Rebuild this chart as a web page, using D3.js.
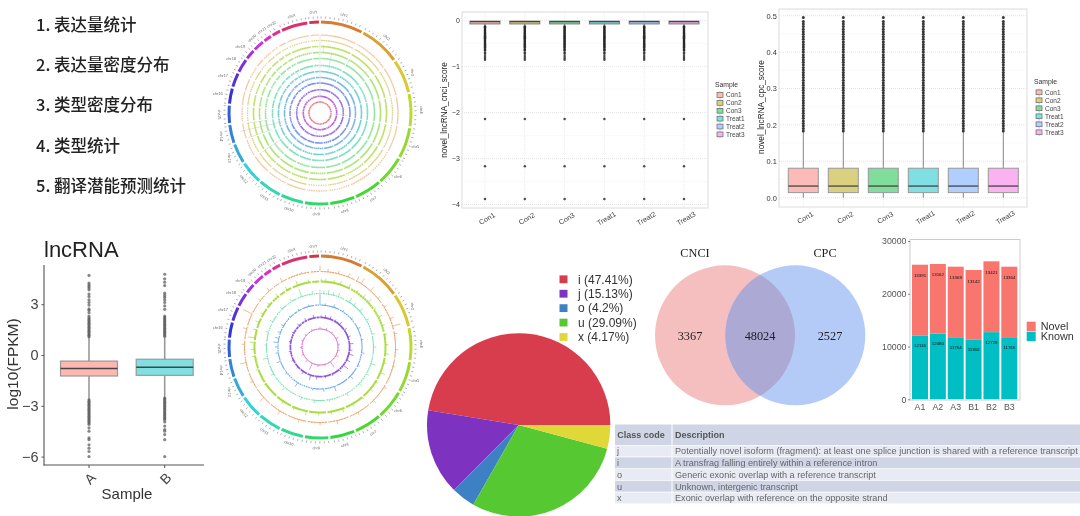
<!DOCTYPE html>
<html lang="zh"><head><meta charset="utf-8">
<script src="https://cdn.jsdelivr.net/npm/d3@7/dist/d3.min.js"></script>
<style>
html,body{margin:0;padding:0;background:#fff;overflow:hidden}
svg{display:block}
text{font-family:"Liberation Sans",Arial,sans-serif}
</style></head><body>
<script>
// ---------- data ----------
const menuItems = ["1. 表达量统计","2. 表达量密度分布","3. 类型密度分布","4. 类型统计","5. 翻译潜能预测统计"];

const chromNames = ["chr1","chr2","chr3","chr4","chr5","chr6","chr7","chr8","chr9","chr10","chr11","chr12","chr13","chr14","chr15","chr16","chr17","chr18","chr19","chr20","chr21","chr22","chrX","chrY"];
const chromLengths = [248,242,198,190,181,170,159,145,138,133,135,133,114,107,102,90,83,80,58,64,46,50,156,57];

// top circos: faint long peaks [angle deg, inner value, outer value]
const topPeaks = [[0,13,78],[3,60,68],[11,44,62],[29,52,60],[95,14,28],[190,14,22],[212,40,50],[236,44,72],[251,50,76],[257,38,82],[262,54,74],[270,16,30],[315,50,58],[330,36,46]];

// lower circos: peaks per track [angle deg, height]
const peaksOrange = [[0,6],[6,3],[14,3],[22,4],[29,5],[33,6],[42,5],[50,3],[58,3],[68,4],[74,8],[80,3],[92,3],[105,2],[122,3],[135,3],[150,3],[167,4],[180,3],[196,3],[212,4],[228,5],[243,3],[258,6],[272,3],[284,4],[296,10],[308,3],[318,4],[330,4],[346,2]];
const peaksLime = [[1,3],[5,3],[12,3],[18,4],[26,4],[34,3],[41,4],[47,5],[55,3],[63,4],[71,3],[79,3],[88,3],[96,4],[104,3],[113,5],[122,3],[130,4],[140,3],[150,3],[160,4],[170,3],[181,3],[192,4],[203,3],[214,3],[236,2],[250,3],[262,3],[268,4],[274,5],[278,7],[285,4],[292,4],[300,3],[310,3],[320,4],[330,4],[340,5],[350,3]];
const peaksGreen = [[0,4],[4,3],[9,4],[14,3],[20,4],[33,5],[39,3],[48,4],[60,3],[76,3],[90,3],[108,5],[120,3],[133,4],[150,3],[170,2],[186,3],[200,3],[221,4],[240,3],[258,5],[272,2],[286,3],[298,3],[315,3],[328,3],[340,8],[352,3]];
const peaksBlue = [[0,11],[7,2],[19,3],[33,2],[48,2],[64,3],[80,2],[98,3],[116,2],[134,4],[160,5],[175,3],[190,2],[212,5],[232,2],[250,4],[262,3],[270,3],[276,5],[282,4],[290,3],[300,3],[315,2],[330,2],[345,2]];
const peaksPurple = [[2,2],[10,3],[20,3],[30,2],[41,4],[55,3],[70,3],[84,4],[96,3],[104,5],[116,4],[128,6],[140,3],[156,2],[170,2],[186,3],[198,5],[214,3],[228,2],[244,2],[262,2],[280,2],[298,2],[316,3],[332,3],[348,3]];
const peaksMagenta = [[0,2],[20,2],[40,2],[62,3],[82,2],[100,2],[118,3],[145,7],[165,2],[186,2],[205,7],[224,3],[246,2],[268,2],[290,2],[310,2],[335,2]];

// novel_lncRNA_cnci_score
const cnciSamples = ["Con1","Con2","Con3","Treat1","Treat2","Treat3"];
const cnciTicks = [0,-1,-2,-3,-4];
const cnciQ1 = -0.07, cnciMedian = -0.02, cnciQ3 = -0.01, cnciLow = -0.1;
const cnciOutliers = [-0.12,-0.14,-0.16,-0.18,-0.2,-0.22,-0.24,-0.26,-0.28,-0.3,-0.32,-0.34,-0.36,-0.38,-0.4,-0.42,-0.44,-0.46,-0.48,-0.5,-0.52,-0.54,-0.56,-0.58,-0.61,-0.63,-0.65,-0.69,-0.72,-0.77,-0.81,-0.85,-2.14,-3.17,-3.88];

// novel_lncRNA_cpc_score
const cpcTicks = [0,0.1,0.2,0.3,0.4,0.5];
const cpcQ1 = 0.014, cpcMedian = 0.032, cpcQ3 = 0.081, cpcLow = 0, cpcHigh = 0.18;
const cpcOutliers = [0.183,0.19,0.197,0.204,0.211,0.218,0.225,0.232,0.239,0.246,0.253,0.26,0.267,0.274,0.281,0.288,0.295,0.302,0.309,0.316,0.323,0.33,0.337,0.344,0.351,0.358,0.365,0.372,0.379,0.386,0.393,0.4,0.407,0.414,0.421,0.428,0.435,0.442,0.449,0.456,0.463,0.47,0.477,0.484,0.495];

// lncRNA box plot
const lncSamples = ["A","B"];
const lncTicks = [3,0,-3,-6];
const lncStatsA = {q1:-1.24, med:-0.79, q3:-0.36, lo:-2.66, hi:1.08};
const lncStatsB = {q1:-1.2, med:-0.73, q3:-0.25, lo:-2.6, hi:1.1};
const lncOutA = [1.08,1.16,1.24,1.32,1.4,1.48,1.56,1.64,1.72,1.8,1.88,1.96,2.04,2.12,2.2,2.3,2.5,2.65,2.72,2.95,3.1,3.25,3.45,3.6,3.85,3.95,4.05,4.15,4.25,4.7,-2.65,-2.73,-2.81,-2.89,-2.97,-3.05,-3.13,-3.21,-3.29,-3.37,-3.45,-3.53,-3.61,-3.69,-3.77,-3.85,-3.93,-4.01,-4.1,-4.3,-4.5,-4.9,-5.0,-5.3,-5.5,-5.7,-6.0];
const lncOutB = [1.1,1.18,1.26,1.34,1.42,1.5,1.58,1.66,1.74,1.82,1.9,1.98,2.06,2.14,2.22,2.3,2.7,2.9,3.1,3.25,3.4,3.52,3.65,4.1,4.3,4.5,4.77,-2.55,-2.63,-2.71,-2.79,-2.87,-2.95,-3.03,-3.11,-3.19,-3.27,-3.35,-3.43,-3.51,-3.59,-3.67,-3.75,-3.83,-3.95,-4.2,-4.4,-4.5,-4.7,-5.0,-6.0];

// pie
const pieClasses = ["i","j","o","u","x"];
const pieShares = [47.41,15.13,4.2,29.09,4.17];

// venn
const vennNames = ["CNCI","CPC"];
const vennCounts = [3367,48024,2527];

// stacked bars
const barSamples = ["A1","A2","A3","B1","B2","B3"];
const knownCounts = [12116,12480,11764,11360,12729,11766];
const novelCounts = [13391,13162,13369,13142,13421,13364];
const barTicks = [0,10000,20000,30000];

// class-code table
const tableHeader = ["Class code","Description"];
const tableCodes = ["j","i","o","u","x"];
const tableDescriptions = ["Potentially novel isoform (fragment): at least one splice junction is shared with a reference transcript","A transfrag falling entirely within a reference intron","Generic exonic overlap with a reference transcript","Unknown, intergenic transcript","Exonic overlap with reference on the opposite strand"];

// ---------- page ----------
const svg = d3.select("body").append("svg").attr("width",1080).attr("height",516).attr("viewBox","0 0 1080 516");
svg.append("rect").attr("width",1080).attr("height",516).attr("fill","#fff");
const defs = svg.append("defs");
[["soft",0.55],["soft2",0.7]].forEach(f=>{
  defs.append("filter").attr("id",f[0]).attr("x","-5%").attr("y","-5%").attr("width","110%").attr("height","110%")
    .append("feGaussianBlur").attr("stdDeviation",f[1]);
});
const layer = (f)=> svg.append("g").attr("filter",`url(#${f||"soft"})`);

// menu
const menuY = d3.scalePoint().domain(menuItems).range([30.5,192]);
layer().selectAll("text").data(menuItems).join("text")
  .attr("x",36).attr("y",d=>menuY(d))
  .style("font-family",'"Noto Sans CJK SC","Noto Sans",sans-serif').style("font-weight",500)
  .attr("font-size",16.5).attr("fill","#222").text(d=>d);

// ---------- circos ----------
const gapDeg = 1.3;
const usable = 360 - gapDeg*chromNames.length;
const cum = d3.cumsum(chromLengths);
const genomeTotal = cum[cum.length-1];
const genomeAngle = d3.scaleLinear().domain([0,genomeTotal]).range([0,usable]);
const chromArcs = chromNames.map((n,i)=>{
  const start = genomeAngle(i?cum[i-1]:0)+gapDeg*i+gapDeg/2;
  const end = genomeAngle(cum[i])+gapDeg*i+gapDeg/2;
  return {name:n,start,end,len:chromLengths[i],i};
});
const chromColor = d3.scaleLinear().domain([0,chromNames.length-1]).range([26,352]);
const rad = d=>d*Math.PI/180;
const arcPath = (r,s,e)=>d3.arc()({innerRadius:r,outerRadius:r,startAngle:rad(s),endAngle:rad(e)});
function ideogram(g){
  const arc = d3.arc();
  g.selectAll("path.chrom").data(chromArcs).join("path").attr("class","chrom")
    .attr("d",d=>arc({innerRadius:89.5,outerRadius:92.5,startAngle:rad(d.start),endAngle:rad(d.end)}))
    .attr("fill",d=>d3.hsl(chromColor(d.i),0.68,0.52));
  chromArcs.forEach(c=>{
    const t = d3.scaleLinear().domain([0,c.len]).range([c.start,c.end]);
    const vals = d3.range(0,c.len,25);
    g.append("g").selectAll("line").data(vals).join("line")
      .attr("x1",v=>94.5*Math.sin(rad(t(v)))).attr("y1",v=>-94.5*Math.cos(rad(t(v))))
      .attr("x2",v=>96.5*Math.sin(rad(t(v)))).attr("y2",v=>-96.5*Math.cos(rad(t(v))))
      .attr("stroke","#999").attr("stroke-width",0.8);
  });
  g.selectAll("text.cn").data(chromArcs).join("text").attr("class","cn")
    .attr("font-size",3.9).attr("fill","#666").attr("text-anchor","middle").attr("dy","0.35em")
    .attr("transform",d=>{
      const m=(d.start+d.end)/2;
      let rot = m>90&&m<270 ? m-180 : m;
      if(rot>180) rot-=360;
      if(Math.abs(rot)>50) rot = rot>0 ? 90 : 0;
      const r = Math.abs(rot)==0&&m>200&&m<340 ? 104 : 101;
      return `translate(${r*Math.sin(rad(m))},${-r*Math.cos(rad(m))}) rotate(${rot})`;
    }).text(d=>d.name);
}

// upper circos
const topG = layer("soft2").attr("transform","translate(320,113)");
ideogram(topG);
const topRadii = [78,72.5,66.5,60.5,54.5,47.5,41.5,35.5,30,23.3,16.7,11];
const topColors = ["#EE9F66","#C9B530","#A5D52F","#8BDD47","#6CDD7A","#4CD6A6","#3CBFC4","#4B9BE2","#4E6EE2","#7440DA","#A32DC8","#E8475A"];
topRadii.forEach((r,k)=>{
  topG.append("g").selectAll("path").data(chromArcs).join("path")
    .attr("d",d=>arcPath(r,d.start,d.end))
    .attr("fill","none").attr("stroke",topColors[k]).attr("stroke-width",k==11?1.5:k<2?1.3:1.6)
    .attr("stroke-dasharray",k<2?"1.3 1.1":"1.6 0.5").attr("opacity",k<2?0.6:0.72);
});
topG.append("g").selectAll("line").data(topPeaks).join("line")
  .attr("x1",d=>d[1]*Math.sin(rad(d[0]))).attr("y1",d=>-d[1]*Math.cos(rad(d[0])))
  .attr("x2",d=>d[2]*Math.sin(rad(d[0]))).attr("y2",d=>-d[2]*Math.cos(rad(d[0])))
  .attr("stroke","#bbb").attr("stroke-width",0.6).attr("opacity",.6);

// lower circos
const lowG = layer("soft2").attr("transform","translate(320,347)");
ideogram(lowG);
const lowTracks = [
  {r:75.5,c:"#EE9F66",w:1.0,p:peaksOrange,o:.9,dash:"2 0.8"},
  {r:65.5,c:"#A2D832",w:2.0,p:peaksLime,o:.9,dash:"2.2 0.5"},
  {r:53.5,c:"#6FE0A8",w:1.1,p:peaksGreen,o:.9,dash:"1.6 0.9"},
  {r:42,c:"#5B9FE4",w:1.1,p:peaksBlue,o:.9,dash:"1.6 0.8"},
  {r:29.6,c:"#8A4FD8",w:1.7,p:peaksPurple,o:.95,dash:"2 0.4"},
  {r:18,c:"#D568C8",w:1.0,p:peaksMagenta,o:.9,dash:"1.4 0.6"}
];
lowTracks.forEach(t=>{
  const g = lowG.append("g");
  g.selectAll("path").data(chromArcs).join("path")
    .attr("d",d=>arcPath(t.r,d.start,d.end))
    .attr("fill","none").attr("stroke",t.c).attr("stroke-width",t.w)
    .attr("stroke-dasharray",t.dash).attr("opacity",t.o);
  g.selectAll("line").data(t.p).join("line")
    .attr("x1",d=>t.r*Math.sin(rad(d[0]))).attr("y1",d=>-t.r*Math.cos(rad(d[0])))
    .attr("x2",d=>(t.r+d[1])*Math.sin(rad(d[0]))).attr("y2",d=>-(t.r+d[1])*Math.cos(rad(d[0])))
    .attr("stroke",t.c).attr("stroke-width",0.8).attr("opacity",.85);
});

// ---------- ggplot style box panels ----------
const hues = ["#F8766D","#B79F00","#00BA38","#00BFC4","#619CFF","#F564E3"];
function boxPanel(o){
  const g = layer("soft");
  const x = d3.scalePoint().domain(cnciSamples).range(o.xr);
  const y = d3.scaleLinear().domain(o.ydom).range(o.yr);
  const grid = g.append("g");
  grid.selectAll("line.maj").data(o.ticks).join("line").attr("class","maj")
    .attr("x1",o.px[0]).attr("x2",o.px[1]).attr("y1",d=>y(d)).attr("y2",d=>y(d))
    .attr("stroke","#dedede").attr("stroke-width",.8).attr("stroke-dasharray","1 1");
  grid.selectAll("line.min").data(o.minor).join("line").attr("class","min")
    .attr("x1",o.px[0]).attr("x2",o.px[1]).attr("y1",d=>y(d)).attr("y2",d=>y(d))
    .attr("stroke","#eeeeee").attr("stroke-width",.6).attr("stroke-dasharray","1 1");
  grid.selectAll("line.v").data(cnciSamples).join("line").attr("class","v")
    .attr("y1",o.py[0]).attr("y2",o.py[1]).attr("x1",d=>x(d)).attr("x2",d=>x(d))
    .attr("stroke","#e4e4e4").attr("stroke-width",.7).attr("stroke-dasharray","1 1");
  g.append("rect").attr("x",o.px[0]).attr("y",o.py[0]).attr("width",o.px[1]-o.px[0]).attr("height",o.py[1]-o.py[0])
    .attr("fill","none").attr("stroke","#dcdcdc").attr("stroke-width",1);
  const bw = 30;
  cnciSamples.forEach((s,i)=>{
    const b = g.append("g");
    b.append("line").attr("x1",x(s)).attr("x2",x(s)).attr("y1",y(o.q3)).attr("y2",y(o.hi))
      .attr("stroke",o.whisk).attr("stroke-width",1);
    b.append("line").attr("x1",x(s)).attr("x2",x(s)).attr("y1",y(o.q1)).attr("y2",y(o.lo))
      .attr("stroke",o.whisk).attr("stroke-width",1);
    b.selectAll("circle").data(o.out).join("circle").attr("cx",x(s)).attr("cy",d=>y(d))
      .attr("r",o.outR).attr("fill","#222").attr("fill-opacity",o.outO);
    b.append("rect").attr("x",x(s)-bw/2).attr("width",bw)
      .attr("y",y(o.q3)).attr("height",y(o.q1)-y(o.q3))
      .attr("fill",d3.interpolateRgb(hues[i],"#fff")(0.5)).attr("stroke",o.boxStroke).attr("stroke-width",1);
    b.append("line").attr("x1",x(s)-bw/2).attr("x2",x(s)+bw/2).attr("y1",y(o.med)).attr("y2",y(o.med))
      .attr("stroke","#444").attr("stroke-width",1.3);
  });
  const yAxis = d3.axisLeft(y).tickValues(o.ticks).tickFormat(d3.format(o.fmt)).tickSize(0).tickPadding(0);
  const ya = g.append("g").attr("transform",`translate(${o.px[0]-2.2},0)`).call(yAxis);
  ya.select(".domain").remove();
  ya.selectAll("text").attr("font-size",o.tickFs).attr("fill","#333").style("font-family",'"Liberation Sans",sans-serif');
  g.append("g").selectAll("text").data(cnciSamples).join("text")
    .attr("transform",d=>`translate(${x(d)+2},${o.py[1]+10.5}) rotate(-30)`)
    .attr("text-anchor","middle").attr("dy","0.35em").attr("font-size",7.2).attr("fill","#444").text(d=>d);
  g.append("text").attr("transform",`translate(${o.ylx},${o.yly}) rotate(-90)`).attr("text-anchor","middle")
    .attr("font-size",8.2).attr("fill","#222").text(o.yl);
  g.append("text").attr("x",o.lx).attr("y",o.lty).attr("font-size",6.8).attr("fill","#333").text("Sample");
  const ly = d3.scalePoint().domain(cnciSamples).range(o.lkeys);
  cnciSamples.forEach((s,i)=>{
    g.append("line").attr("x1",o.lx+5).attr("x2",o.lx+5).attr("y1",ly(s)-3.8).attr("y2",ly(s)+3.8).attr("stroke","#888").attr("stroke-width",.5);
    g.append("rect").attr("x",o.lx+2).attr("y",ly(s)-2.4).attr("width",6).attr("height",4.8)
      .attr("fill",d3.interpolateRgb(hues[i],"#fff")(0.5)).attr("stroke","#666").attr("stroke-width",.7);
    g.append("text").attr("x",o.lx+11).attr("y",ly(s)).attr("dy","0.35em").attr("font-size",6.5).attr("fill","#444").text(s);
  });
}
boxPanel({xr:[485,684],ydom:[0,-4],yr:[20.7,204.5],px:[462,708],py:[12,208],ticks:cnciTicks,minor:[-0.5,-1.5,-2.5,-3.5],
  q1:cnciQ1,med:cnciMedian,q3:cnciQ3,lo:cnciLow,hi:cnciQ3,out:cnciOutliers,outR:1.25,outO:.8,whisk:"#666",boxStroke:"#777",
  fmt:"d",tickFs:7,ylx:447,yly:110,yl:"novel_lncRNA_cnci_score",lx:715,lty:87,lkeys:[95,134.4]});
boxPanel({xr:[803.3,1003.3],ydom:[0,0.5],yr:[197.7,15.7],px:[779,1027],py:[9,207],ticks:cpcTicks,minor:[0.05,0.15,0.25,0.35,0.45],
  q1:cpcQ1,med:cpcMedian,q3:cpcQ3,lo:cpcLow,hi:cpcHigh,out:cpcOutliers,outR:1.5,outO:.9,whisk:"#888",boxStroke:"#999",
  fmt:".1f",tickFs:7.4,ylx:764,yly:107,yl:"novel_lncRNA_cpc_score",lx:1034,lty:84,lkeys:[92.3,132.3]});

// ---------- lncRNA box plot ----------
{
  const g = layer("soft");
  const x = d3.scalePoint().domain(lncSamples).range([89,164.7]);
  const y = d3.scaleLinear().domain([0,3]).range([355,304.2]);
  g.append("text").attr("x",44).attr("y",257).attr("font-size",22).attr("fill","#222").text("lncRNA");
  [lncStatsA,lncStatsB].forEach((st,i)=>{
    const s = lncSamples[i], cx=x(s);
    g.append("line").attr("x1",cx).attr("x2",cx).attr("y1",y(st.hi)).attr("y2",y(st.lo)).attr("stroke","#999").attr("stroke-width",1.6);
    g.append("g").selectAll("circle").data(i?lncOutB:lncOutA).join("circle")
      .attr("cx",cx).attr("cy",d=>y(d)).attr("r",1.6).attr("fill","#555").attr("fill-opacity",.7);
    g.append("rect").attr("x",cx-28.5).attr("width",57).attr("y",y(st.q3)).attr("height",y(st.q1)-y(st.q3))
      .attr("fill",i?"#7FDFE1":"#FFB7B2").attr("stroke","#999").attr("stroke-width",1.2);
    g.append("line").attr("x1",cx-28.5).attr("x2",cx+28.5).attr("y1",y(st.med)).attr("y2",y(st.med)).attr("stroke","#444").attr("stroke-width",1.5);
  });
  g.append("line").attr("x1",44).attr("x2",44).attr("y1",265).attr("y2",465.5).attr("stroke","#555").attr("stroke-width",1.1);
  g.append("line").attr("x1",43.5).attr("x2",204).attr("y1",465).attr("y2",465).attr("stroke","#555").attr("stroke-width",1.1);
  const yAxis = d3.axisLeft(y).tickValues(lncTicks).tickFormat(d3.format("d")).tickSize(2.5).tickPadding(3);
  const ya = g.append("g").attr("transform","translate(44,0)").call(yAxis);
  ya.select(".domain").remove();
  ya.selectAll("line").attr("stroke","#555");
  ya.selectAll("text").attr("font-size",14.5).attr("fill","#444").style("font-family",'"Liberation Sans",sans-serif');
  g.append("g").selectAll("line").data(lncSamples).join("line").attr("x1",d=>x(d)).attr("x2",d=>x(d)).attr("y1",465).attr("y2",468).attr("stroke","#555");
  g.append("g").selectAll("text").data(lncSamples).join("text")
    .attr("transform",d=>`translate(${x(d)+1},${478.5}) rotate(-45)`).attr("text-anchor","middle").attr("dy","0.35em")
    .attr("font-size",14).attr("fill","#444").text(d=>d);
  g.append("text").attr("x",127).attr("y",499).attr("text-anchor","middle").attr("font-size",15).attr("fill","#333").text("Sample");
  g.append("text").attr("transform","translate(18,364) rotate(-90)").attr("text-anchor","middle").attr("font-size",15.5).attr("fill","#333").text("log10(FPKM)");
}

// ---------- pie ----------
{
  const g = layer("soft");
  const colors = d3.scaleOrdinal().domain(pieClasses).range(["#D83C4E","#7E33C0","#3C80C4","#57C832","#E0D838"]);
  const pie = d3.pie().sort(null).startAngle(Math.PI/2).endAngle(Math.PI/2-2*Math.PI);
  const arcs = pie(pieShares);
  const arc = d3.arc().innerRadius(0).outerRadius(91.7);
  g.append("g").attr("transform","translate(518.7,425)").selectAll("path").data(arcs).join("path")
    .attr("d",arc).attr("fill",(d,i)=>colors(pieClasses[i]));
  const ly = d3.scalePoint().domain(pieClasses).range([279.3,337]);
  g.append("g").selectAll("rect").data(pieClasses).join("rect")
    .attr("x",559.5).attr("y",d=>ly(d)-3.9).attr("width",8).attr("height",7.8).attr("fill",d=>colors(d));
  g.append("g").selectAll("text").data(pieClasses).join("text")
    .attr("x",578).attr("y",d=>ly(d)).attr("dy","0.36em").attr("font-size",12).attr("fill","#333")
    .text((d,i)=>`${d} (${pieShares[i]}%)`);
}

// ---------- venn ----------
{
  const g = layer("soft");
  const serif = '"Liberation Serif","Times New Roman",serif';
  const vx = d3.scalePoint().domain(vennNames).range([725,795.3]);
  defs.append("clipPath").attr("id","vennL").append("circle").attr("cx",vx("CNCI")).attr("cy",335.3).attr("r",70);
  g.append("circle").attr("cx",vx("CNCI")).attr("cy",335.3).attr("r",70).attr("fill","#F6BFBF");
  g.append("circle").attr("cx",vx("CPC")).attr("cy",335.3).attr("r",70).attr("fill","#B3CBF6");
  g.append("circle").attr("cx",vx("CPC")).attr("cy",335.3).attr("r",70).attr("fill","#ACA9D5").attr("clip-path","url(#vennL)");
  const lab = d3.scaleOrdinal().domain(vennNames).range([695,825]);
  g.append("g").selectAll("text").data(vennNames).join("text").attr("x",d=>lab(d)).attr("y",257)
    .attr("text-anchor","middle").attr("font-size",12.3).attr("fill","#222").style("font-family",serif).text(d=>d);
  const cx = d3.scalePoint().domain([0,1,2]).range([690,830]);
  g.append("g").selectAll("text").data(vennCounts).join("text").attr("x",(d,i)=>cx(i)).attr("y",339.5)
    .attr("text-anchor","middle").attr("font-size",12.3).attr("fill","#222").style("font-family",serif).text(d=>d);
}

// ---------- stacked bars ----------
{
  const g = layer("soft");
  const x = d3.scalePoint().domain(barSamples).range([920,1009.3]);
  const y = d3.scaleLinear().domain([0,30000]).range([399.3,241]);
  barSamples.forEach((s,i)=>{
    const k=knownCounts[i], n=novelCounts[i];
    g.append("rect").attr("x",x(s)-8).attr("width",16).attr("y",y(k)).attr("height",y(0)-y(k)).attr("fill","#00BFC4");
    g.append("rect").attr("x",x(s)-8).attr("width",16).attr("y",y(k+n)).attr("height",y(k)-y(k+n)).attr("fill","#F8766D");
    g.append("text").attr("x",x(s)).attr("y",y(k+n)+12.5).attr("text-anchor","middle").attr("font-size",4.4).attr("fill","#111").text(n);
    g.append("text").attr("x",x(s)).attr("y",y(k)+12).attr("text-anchor","middle").attr("font-size",4.4).attr("fill","#111").text(k);
  });
  g.append("rect").attr("x",910).attr("y",239.5).attr("width",110).attr("height",160.5).attr("fill","none").attr("stroke","#ccc").attr("stroke-width",1);
  const ya = g.append("g").attr("transform","translate(910,0)").call(d3.axisLeft(y).tickValues(barTicks).tickFormat(d3.format("d")).tickSize(2).tickPadding(1.5));
  ya.select(".domain").remove();
  ya.selectAll("line").attr("stroke","#888");
  ya.selectAll("text").attr("font-size",8.8).attr("fill","#555").style("font-family",'"Liberation Sans",sans-serif');
  g.append("g").selectAll("text").data(barSamples).join("text").attr("x",d=>x(d)).attr("y",410)
    .attr("text-anchor","middle").attr("font-size",8.8).attr("fill","#555").text(d=>d);
  [["Novel","#F8766D",321.7,330],["Known","#00BFC4",331.7,340]].forEach(l=>{
    g.append("rect").attr("x",1026.7).attr("y",l[2]).attr("width",9).attr("height",9.4).attr("fill",l[1]);
    g.append("text").attr("x",1040.7).attr("y",l[3]).attr("font-size",10.8).attr("fill","#333").text(l[0]);
  });
}

// ---------- table ----------
{
  const g = layer("soft");
  const rowBands = d3.scaleBand().domain(tableCodes).range([445.6,504.2]);
  g.append("rect").attr("x",615).attr("y",424.5).attr("width",56.5).attr("height",20.5).attr("fill","#CFD5E5");
  g.append("rect").attr("x",672.5).attr("y",424.5).attr("width",407.5).attr("height",20.5).attr("fill","#CFD5E5");
  g.append("g").selectAll("text").data(tableHeader).join("text").attr("x",(d,i)=>i?675:617.3).attr("y",437.8)
    .attr("font-size",9).attr("font-weight",700).attr("fill","#555").text(d=>d);
  tableCodes.forEach((c,i)=>{
    const fill = i%2?"#CFD5E5":"#E9EBF4", y=rowBands(c), h=rowBands.bandwidth()-0.8;
    g.append("rect").attr("x",615).attr("y",y).attr("width",56.5).attr("height",h).attr("fill",fill);
    g.append("rect").attr("x",672.5).attr("y",y).attr("width",407.5).attr("height",h).attr("fill",fill);
    g.append("text").attr("x",617).attr("y",y+h/2).attr("dy","0.36em").attr("font-size",9.15).attr("fill","#666").text(c);
    g.append("text").attr("x",675).attr("y",y+h/2).attr("dy","0.36em").attr("font-size",9.15).attr("fill","#666").text(tableDescriptions[i]);
  });
}
</script>
</body></html>
